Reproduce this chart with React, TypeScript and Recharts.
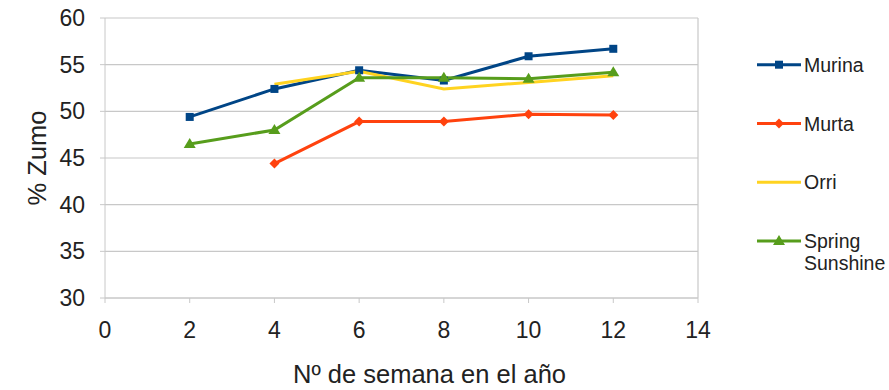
import React from 'react';
import {
  LineChart,
  Line,
  XAxis,
  YAxis,
  CartesianGrid,
  Legend,
  ReferenceLine,
} from 'recharts';

// Week of the year at which juice content was measured
const weeks = [2, 4, 6, 8, 10, 12];

// % juice per variety (null = not measured that week)
const murina = [49.4, 52.4, 54.4, 53.3, 55.9, 56.7];
const murta = [null, 44.4, 48.9, 48.9, 49.7, 49.6];
const orri = [null, 52.9, 54.3, 52.4, 53.1, 53.8];
const springSunshine = [46.5, 48.0, 53.6, 53.6, 53.5, 54.2];

const xTicks = [0, 2, 4, 6, 8, 10, 12, 14];
const yTicks = [30, 35, 40, 45, 50, 55, 60];

const seriesNames = ['Murina', 'Murta', 'Orri', 'Spring Sunshine'];

const data = weeks.map((w, i) => ({
  week: w,
  Murina: murina[i],
  Murta: murta[i],
  Orri: orri[i],
  'Spring Sunshine': springSunshine[i],
}));

const FONT = '"Liberation Sans", Arial, sans-serif';
const TEXT = '#222222';
const GRID = '#c8c8c8';

const COLORS: Record<string, string> = {
  Murina: '#004586',
  Murta: '#ff420e',
  Orri: '#ffd320',
  'Spring Sunshine': '#579d1c',
};

type Marker = 'square' | 'diamond' | 'triangle' | 'none';
const MARKERS: Record<string, Marker> = {
  Murina: 'square',
  Murta: 'diamond',
  Orri: 'none',
  'Spring Sunshine': 'triangle',
};

function markerShape(kind: Marker, cx: number, cy: number, color: string, key?: string) {
  if (kind === 'square') {
    return <rect key={key} x={cx - 4} y={cy - 4} width={8} height={8} fill={color} />;
  }
  if (kind === 'diamond') {
    return (
      <polygon
        key={key}
        points={`${cx},${cy - 5} ${cx + 5},${cy} ${cx},${cy + 5} ${cx - 5},${cy}`}
        fill={color}
      />
    );
  }
  if (kind === 'triangle') {
    return (
      <polygon
        key={key}
        points={`${cx},${cy - 6} ${cx + 6},${cy + 4} ${cx - 6},${cy + 4}`}
        fill={color}
      />
    );
  }
  return <g key={key} />;
}

function makeDot(name: string) {
  const kind = MARKERS[name];
  const color = COLORS[name];
  return (props: any) => {
    const { cx, cy, index, value } = props;
    const key = `${name}-${index}`;
    if (cx == null || cy == null || value == null || kind === 'none') {
      return <g key={key} />;
    }
    return markerShape(kind, cx, cy, color, key);
  };
}

function LegendContent() {
  const rowGap = 58.8;
  const firstRow = 24.7;
  return (
    <svg width={132} height={250} style={{ display: 'block', overflow: 'visible' }}>
      {seriesNames.map((name, i) => {
        const cy = firstRow + i * rowGap;
        const color = COLORS[name];
        const words = name.split(' ');
        return (
          <g key={name}>
            <line x1={0} y1={cy} x2={44} y2={cy} stroke={color} strokeWidth={3} />
            {markerShape(MARKERS[name], 22, cy, color)}
            <text
              x={47}
              y={cy}
              fontFamily={FONT}
              fontSize={19.5}
              fill={TEXT}
              dominantBaseline="central"
            >
              {words.map((w, j) => (
                <tspan key={w} x={47} dy={j === 0 ? 0 : 22}>
                  {w}
                </tspan>
              ))}
            </text>
          </g>
        );
      })}
    </svg>
  );
}

function XTitle(props: any) {
  const vb = props.viewBox || {};
  const cx = (vb.x ?? 0) + (vb.width ?? 0) / 2 + 28;
  const y = (vb.y ?? 0) + (vb.height ?? 0) - 7;
  return (
    <text x={cx} y={y} textAnchor="middle" fontFamily={FONT} fontSize={25.5} fill={TEXT}>
      Nº de semana en el año
    </text>
  );
}

function YTitle(props: any) {
  const vb = props.viewBox || {};
  const x = (vb.x ?? 0) + 37;
  const y = (vb.y ?? 0) + (vb.height ?? 0) / 2;
  return (
    <text
      x={x}
      y={y}
      textAnchor="middle"
      dominantBaseline="central"
      transform={`rotate(-90 ${x} ${y})`}
      fontFamily={FONT}
      fontSize={25.5}
      fill={TEXT}
    >
      % Zumo
    </text>
  );
}

export default function App() {
  return (
    <div
      style={{
        position: 'absolute',
        left: 0,
        top: 0,
        width: 889,
        height: 390,
        background: '#ffffff',
      }}
    >
      <LineChart
        width={889}
        height={390}
        data={data}
        margin={{ top: 18, right: 191, bottom: 0, left: 0 }}
      >
        <CartesianGrid vertical={false} stroke={GRID} strokeWidth={1.2} />
        <XAxis
          dataKey="week"
          type="number"
          domain={[0, 14]}
          ticks={xTicks}
          interval={0}
          height={92}
          tickSize={5}
          tickMargin={19}
          stroke={GRID}
          tick={{ fill: TEXT, fontSize: 23, fontFamily: FONT }}
          label={<XTitle />}
        />
        <YAxis
          type="number"
          domain={[30, 60]}
          ticks={yTicks}
          interval={0}
          width={105}
          tickSize={5}
          tickMargin={15}
          stroke={GRID}
          tick={{ fill: TEXT, fontSize: 23, fontFamily: FONT }}
          label={<YTitle />}
        />
        <ReferenceLine x={14} stroke={GRID} strokeWidth={1.2} />
        <Legend
          layout="vertical"
          align="center"
          verticalAlign="middle"
          wrapperStyle={{ position: 'absolute', left: 757, top: 40, width: 132 }}
          content={<LegendContent />}
        />
        {seriesNames.map((name) => (
          <Line
            key={name}
            type="linear"
            dataKey={name}
            stroke={COLORS[name]}
            strokeWidth={3}
            dot={makeDot(name)}
            activeDot={false}
            isAnimationActive={false}
          />
        ))}
      </LineChart>
    </div>
  );
}
